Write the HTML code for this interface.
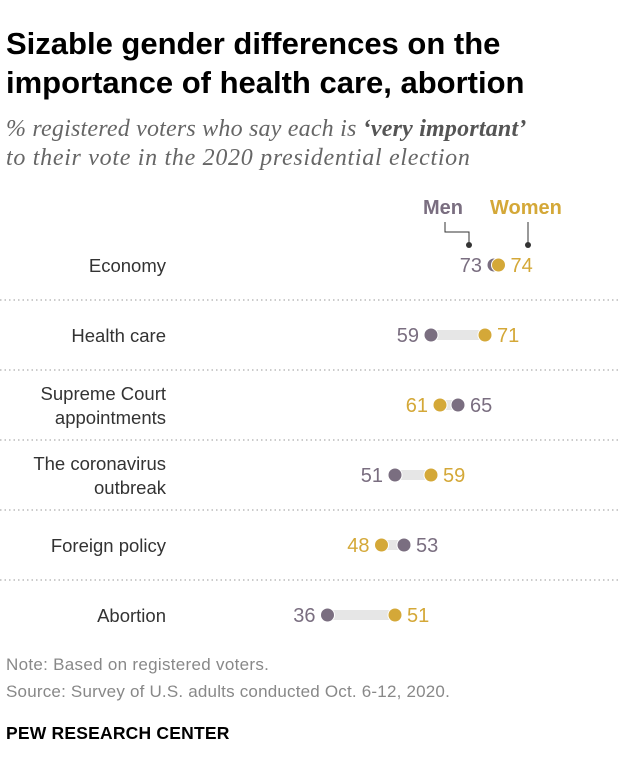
<!DOCTYPE html>
<html><head><meta charset="utf-8"><style>
body{margin:0;width:620px;height:778px;background:#fff;font-family:"Liberation Sans",sans-serif;overflow:hidden}
</style></head><body>
<svg width="620" height="778" xmlns="http://www.w3.org/2000/svg">
<text x="6" y="54" font-size="31" font-weight="bold" fill="#000">Sizable gender differences on the</text>
<text x="6" y="93" font-size="31" font-weight="bold" fill="#000">importance of health care, abortion</text>
<text x="6" y="136" font-size="24" font-style="italic" font-family="Liberation Serif,serif" fill="#666" letter-spacing="0.2">% registered voters who say each is <tspan font-weight="bold" fill="#555">‘very important’</tspan></text>
<text x="6" y="165" font-size="24" font-style="italic" font-family="Liberation Serif,serif" fill="#666" letter-spacing="0.7">to their vote in the 2020 presidential election</text>
<text x="423" y="214" font-size="20" font-weight="bold" fill="#7a6e80">Men</text>
<text x="490" y="214" font-size="20" font-weight="bold" fill="#d4a838">Women</text>
<polyline points="445,222 445,232 469,232 469,245" fill="none" stroke="#333" stroke-width="1"/>
<circle cx="469" cy="245" r="3" fill="#333"/>
<line x1="528" y1="222" x2="528" y2="245" stroke="#333" stroke-width="1"/>
<circle cx="528" cy="245" r="3" fill="#333"/>
<g id="rows"></g>
<text x="6" y="670" font-size="17" fill="#888" letter-spacing="0.3">Note: Based on registered voters.</text>
<text x="6" y="697" font-size="17" fill="#888" letter-spacing="0.2">Source: Survey of U.S. adults conducted Oct. 6-12, 2020.</text>
<text x="6" y="739" font-size="17.5" font-weight="bold" fill="#000" letter-spacing="0.2">PEW RESEARCH CENTER</text>
</svg>
<script>
const categories=[["Economy"],["Health care"],["Supreme Court","appointments"],["The coronavirus","outbreak"],["Foreign policy"],["Abortion"]];
const men=[73,59,65,51,53,36];
const women=[74,71,61,59,48,51];
const NS="http://www.w3.org/2000/svg";
const g=document.getElementById('rows');
function xs(v){return 431+(v-59)*4.5;}
function ys(i){return 265+i*70;}
function mk(t,a){const e=document.createElementNS(NS,t);for(const k in a)e.setAttribute(k,a[k]);g.appendChild(e);return e;}
categories.forEach((c,i)=>{
 const y=ys(i);
 if(i>0){const l=mk('line',{x1:0,x2:620,y1:y-35,y2:y-35,stroke:'#999','stroke-dasharray':'1.5,3','stroke-width':1});
 
 }
 const t=mk('text',{x:166,'text-anchor':'end','font-size':18.5,fill:'#333'});
 
 
 c.forEach((s,j)=>{const ts=document.createElementNS(NS,'tspan');ts.setAttribute('x',166);ts.setAttribute('y',c.length==1?y+7:y-5+j*24);ts.textContent=s;t.appendChild(ts);});
 const m=xs(men[i]),w=xs(women[i]);
 const b=mk('rect',{x:Math.min(m,w),y:y-5,width:Math.abs(m-w),height:10,fill:'#e6e6e6'});
 
 
 const left=men[i]<women[i];
 const mc=mk('circle',{cx:m,cy:y,r:7,fill:'#7a6e80',stroke:'#fff','stroke-width':1});
 
 
 const wc=mk('circle',{cx:w,cy:y,r:7,fill:'#d4a838',stroke:'#fff','stroke-width':1});
 
 
 const ml=mk('text',{x:left?m-12:m+12,y:y+7,'text-anchor':left?'end':'start','font-size':20,fill:'#7a6e80'});
 ml.textContent=men[i];
 
 
 const wl=mk('text',{x:left?w+12:w-12,y:y+7,'text-anchor':left?'start':'end','font-size':20,fill:'#d4a838'});
 wl.textContent=women[i];
 
 
});
</script>
</body></html>
